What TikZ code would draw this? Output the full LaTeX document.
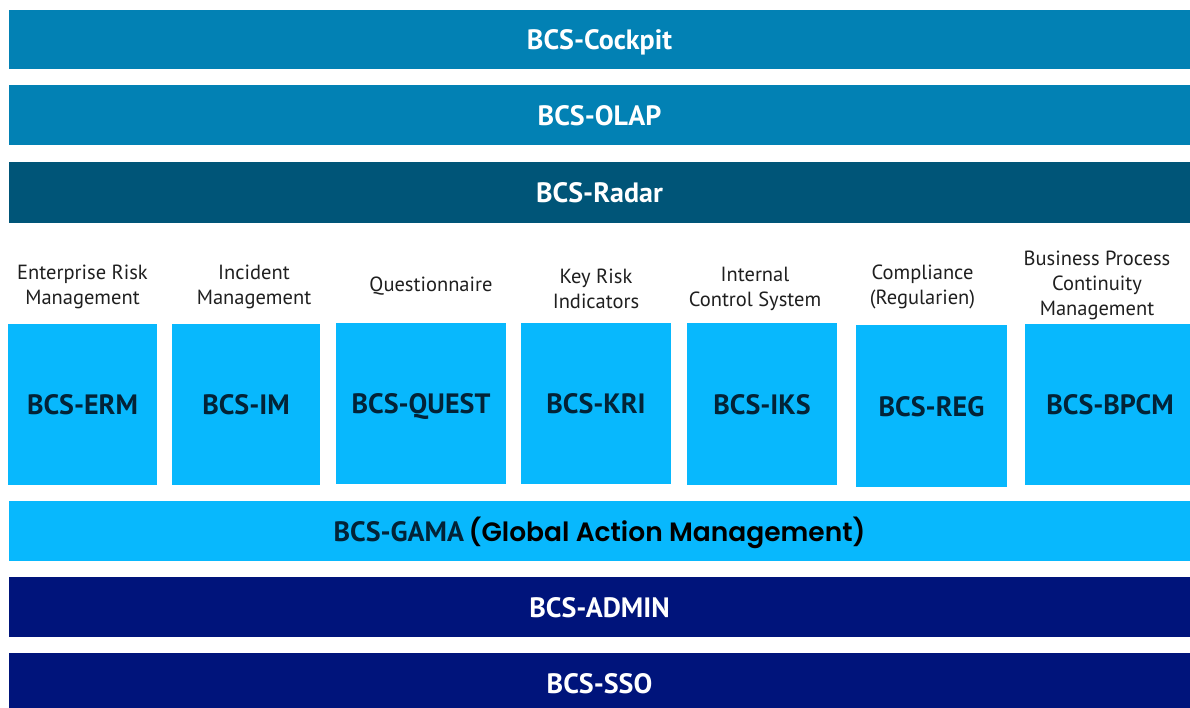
\documentclass[tikz,border=0pt]{standalone}
\usepackage{fontspec}
\setmainfont{PT Sans}
\newfontfamily\gamafont{Poppins}[BoldFont={Poppins SemiBold}]
\usetikzlibrary{positioning}
\definecolor{cockpitblue}{RGB}{2,129,180}
\definecolor{radarblue}{RGB}{0,85,120}
\definecolor{modblue}{RGB}{8,184,253}
\definecolor{adminblue}{RGB}{0,20,123}
\definecolor{modtext}{RGB}{3,35,55}

\begin{document}
\begin{tikzpicture}[x=1pt, y=-1pt,
  bar/.style={anchor=north west, inner sep=0pt, outer sep=0pt, minimum width=1181pt,
    minimum height=60pt, text height=20pt, text depth=0pt, text=white,
    font=\fontsize{28}{30}\selectfont\bfseries},
  modbox/.style={anchor=north west, inner sep=0pt, outer sep=0pt, fill=modblue,
    minimum height=161pt, text height=20pt, text depth=0pt, text=modtext,
    font=\fontsize{28}{30}\selectfont\bfseries},
  caption/.style={anchor=center, align=center, text=black!88,
    font=\fontsize{20.5}{25}\selectfont}]
  \useasboundingbox (0,0) rectangle (1190,707);

  % Draw the top layers
  \node[bar, fill=cockpitblue, minimum height=59pt] (cockpit) at (9,10) {BCS-Cockpit};
  \node[bar, fill=cockpitblue] (olap) at (9,85) {BCS-OLAP};
  \node[bar, fill=radarblue, minimum height=61pt] (radar) at (9,162) {BCS-Radar};

  % Draw the modules
  \node[modbox, minimum width=149pt] (erm) at (8,324) {BCS-ERM};
  \node[modbox, minimum width=148pt] (im) at (172,324) {BCS-IM};
  \node[modbox, minimum width=170pt] (quest) at (336,323) {BCS-QUEST};
  \node[modbox, minimum width=150pt] (kri) at (521,323) {BCS-KRI};
  \node[modbox, minimum width=150pt, minimum height=162pt] (iks) at (687,323) {BCS-IKS};
  \node[modbox, minimum width=151pt, minimum height=162pt] (reg) at (856,325) {BCS-REG};
  \node[modbox, minimum width=170pt] (bpcm) at (1025,324) {BCS-BPCM};

  % Captions above the modules
  \node[caption, above=37pt of erm.north, anchor=center] (ermcap) {Enterprise Risk\\Management};
  \node[caption, above=37pt of im.north, anchor=center, xshift=8pt] (imcap) {Incident\\Management};
  \node[caption, above=37pt of quest.north, anchor=center, xshift=10pt] (questcap) {Questionnaire};
  \node[caption, above=34pt of kri.north, anchor=center] (kricap) {Key Risk\\Indicators};
  \node[caption, above=34pt of iks.north, anchor=center, xshift=-7pt] (ikscap) {Internal\\Control System};
  \node[caption, above=38pt of reg.north, anchor=center, xshift=-9pt] (regcap) {Compliance\\(Regularien)};
  \node[caption, above=39pt of bpcm.north, anchor=center, xshift=-13pt] (bpcmcap) {Business Process\\Continuity\\Management};

  % Draw the base layers
  \node[bar, fill=modblue, text=modtext] (gama) at (9,501)
    {BCS-GAMA\,{\gamafont\fontsize{26.5}{28}\selectfont\color{black}(Global Action Management)}};
  \node[bar, fill=adminblue] (admin) at (9,577) {BCS-ADMIN};
  \node[bar, fill=adminblue] (sso) at (9,653) {BCS-SSO};
\end{tikzpicture}
\end{document}
